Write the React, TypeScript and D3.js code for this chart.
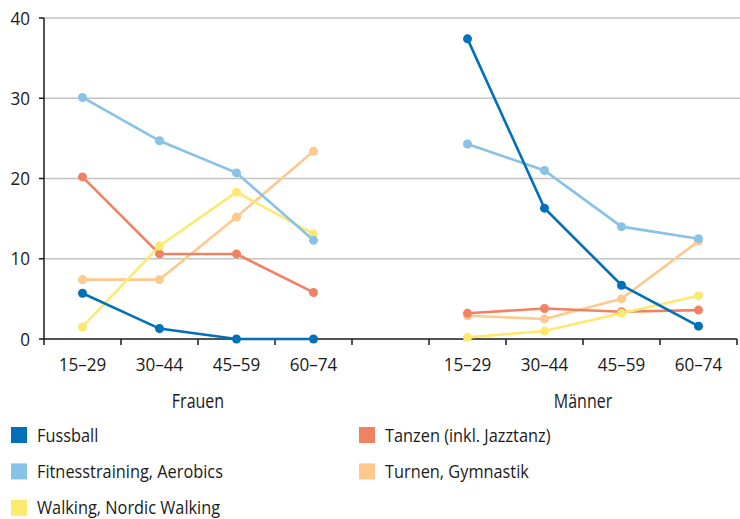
import React from "react";
import * as d3 from "d3";

const groups = ["Frauen", "Männer"];
const ageGroups = ["15–29", "30–44", "45–59", "60–74"];
const yTicks = [0, 10, 20, 30, 40];

const seriesNames = [
  "Fussball",
  "Fitnesstraining, Aerobics",
  "Walking, Nordic Walking",
  "Tanzen (inkl. Jazztanz)",
  "Turnen, Gymnastik",
];
const seriesColors = ["#0071b9", "#88c2e6", "#fde96f", "#f08263", "#fdc98e"];

const fussballFrauen = [5.7, 1.3, 0, 0];
const fussballMaenner = [37.4, 16.3, 6.7, 1.6];
const fitnessFrauen = [30.1, 24.7, 20.7, 12.3];
const fitnessMaenner = [24.3, 21.0, 14.0, 12.5];
const walkingFrauen = [1.5, 11.6, 18.3, 13.1];
const walkingMaenner = [0.2, 1.0, 3.2, 5.4];
const tanzenFrauen = [20.2, 10.6, 10.6, 5.8];
const tanzenMaenner = [3.2, 3.8, 3.4, 3.6];
const turnenFrauen = [7.4, 7.4, 15.2, 23.4];
const turnenMaenner = [2.9, 2.5, 5.0, 12.2];

const seriesData = [
  [fussballFrauen, fussballMaenner],
  [fitnessFrauen, fitnessMaenner],
  [walkingFrauen, walkingMaenner],
  [tanzenFrauen, tanzenMaenner],
  [turnenFrauen, turnenMaenner],
];
// drawing order (back to front)
const drawOrder = [4, 3, 2, 1, 0];

const FONT = "'Open Sans', 'Noto Sans', sans-serif";
const TXT = "#1a1a1a";

function NarrowText(props: {
  x: number;
  y: number;
  size: number;
  sx: number;
  anchor?: "start" | "middle" | "end";
  children: React.ReactNode;
}) {
  return (
    <g transform={`translate(${props.x},${props.y}) scale(${props.sx},1)`}>
      <text x={0} y={0} fontSize={props.size} textAnchor={props.anchor || "start"} fill={TXT}>
        {props.children}
      </text>
    </g>
  );
}

export default function App() {
  const width = 740;
  const height = 519;
  const left = 44;
  const right = 737;
  const top = 18;
  const bottom = 339;

  const slots = [
    ...ageGroups.map((a) => "F|" + a),
    "gap",
    ...ageGroups.map((a) => "M|" + a),
  ];
  const x = d3.scaleBand<string>().domain(slots).range([left, right]).padding(0);
  const y = d3.scaleLinear().domain([0, 40]).range([bottom, top]);
  const bw = x.bandwidth();
  const prefixes = ["F|", "M|"];

  const tickXs = slots.map((s) => x(s) as number).concat([right]);

  const line = d3
    .line<[number, number]>()
    .x((d) => d[0])
    .y((d) => d[1]);

  return (
    <svg
      width={width}
      height={height}
      style={{ position: "absolute", left: 0, top: 0, display: "block" }}
      fontFamily={FONT}
    >
      <rect width={width} height={height} fill="#ffffff" />
      {/* gridlines */}
      {yTicks
        .filter((t) => t > 0)
        .map((t) => (
          <line
            key={"g" + t}
            x1={left}
            x2={width}
            y1={y(t)}
            y2={y(t)}
            stroke="#c3c3c3"
            strokeWidth={1.5}
          />
        ))}
      {/* y axis */}
      <line x1={left} x2={left} y1={top} y2={bottom} stroke={TXT} strokeWidth={1.5} />
      {yTicks.map((t) => (
        <g key={"yt" + t}>
          <line x1={left - 5} x2={left} y1={y(t)} y2={y(t)} stroke={TXT} strokeWidth={1.5} />
          <NarrowText x={left - 14} y={y(t) + 6.5} size={18} sx={0.95} anchor="end">
            {t}
          </NarrowText>
        </g>
      ))}
      {/* x axis */}
      <line x1={left} x2={right} y1={bottom} y2={bottom} stroke={TXT} strokeWidth={1.5} />
      {tickXs.map((tx, i) => (
        <line key={"xt" + i} x1={tx} x2={tx} y1={bottom} y2={bottom + 6} stroke={TXT} strokeWidth={1.5} />
      ))}
      {prefixes.map((p) =>
        ageGroups.map((a) => (
          <NarrowText
            key={p + a}
            x={(x(p + a) as number) + bw / 2}
            y={371}
            size={18}
            sx={0.95}
            anchor="middle"
          >
            {a}
          </NarrowText>
        ))
      )}
      {prefixes.map((p, gi) => {
        const x0 = x(p + ageGroups[0]) as number;
        const x1 = (x(p + ageGroups[3]) as number) + bw;
        return (
          <NarrowText key={"grp" + gi} x={(x0 + x1) / 2} y={408} size={19.5} sx={0.82} anchor="middle">
            {groups[gi]}
          </NarrowText>
        );
      })}
      {/* series */}
      {drawOrder.map((si) => (
        <g key={"s" + si}>
          {prefixes.map((p, gi) => {
            const pts: [number, number][] = seriesData[si][gi].map((v, k) => [
              (x(p + ageGroups[k]) as number) + bw / 2,
              y(v),
            ]);
            return (
              <g key={p}>
                <path d={line(pts) || ""} fill="none" stroke={seriesColors[si]} strokeWidth={2.6} />
                {pts.map((pt, k) => (
                  <circle key={k} cx={pt[0]} cy={pt[1]} r={4.5} fill={seriesColors[si]} />
                ))}
              </g>
            );
          })}
        </g>
      ))}
      {/* legend */}
      {seriesNames.map((name, i) => {
        const col = i < 3 ? 0 : 1;
        const row = i < 3 ? i : i - 3;
        const lx = col === 0 ? 11 : 359;
        const ly = 427 + row * 36.4;
        return (
          <g key={"lg" + i}>
            <rect x={lx} y={ly} width={16} height={16} fill={seriesColors[i]} />
            <NarrowText x={lx + 26} y={ly + 14.5} size={19} sx={0.86}>
              {name}
            </NarrowText>
          </g>
        );
      })}
    </svg>
  );
}
